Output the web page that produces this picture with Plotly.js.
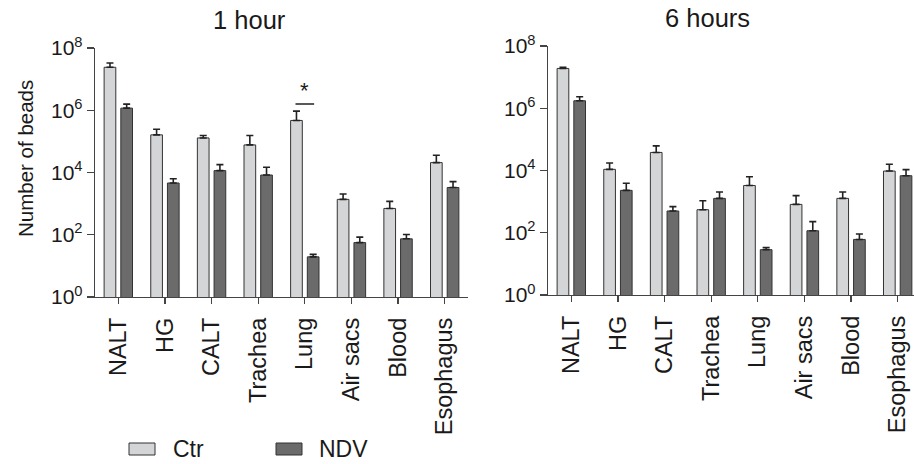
<!DOCTYPE html>
<html>
<head>
<meta charset="utf-8">
<script src="https://cdn.plot.ly/plotly-3.0.1.min.js"></script>
<style>html,body{margin:0;padding:0;background:#fff}#chart{width:914px;height:464px}</style>
</head>
<body>
<div id="chart"></div>
<script>
// ---- data ----
const categories = ["NALT", "HG", "CALT", "Trachea", "Lung", "Air sacs", "Blood", "Esophagus"];

const ctr1h    = [2.4e7, 1.62e5, 1.29e5, 7.7e4, 4.7e5, 1370, 700, 2.08e4];
const ctr1hErr = [0.9e7, 0.84e5, 0.26e5, 7.8e4, 4.7e5, 660, 480, 1.5e4];
const ndv1h    = [1.17e6, 4600, 1.15e4, 8300, 19.5, 56, 74, 3300];
const ndv1hErr = [0.4e6, 1700, 6400, 6400, 4, 28, 28, 1800];

const ctr6h    = [1.9e7, 1.09e4, 3.8e4, 550, 3300, 814, 1270, 9600];
const ctr6hErr = [0.15e7, 6500, 2.4e4, 520, 3000, 740, 760, 6200];
const ndv6h    = [1.74e6, 2300, 500, 1270, 28.6, 116, 61, 6800];
const ndv6hErr = [0.6e6, 1600, 190, 760, 5, 112, 30, 3900];

const yTickVals = [1, 100, 1e4, 1e6, 1e8];
const yTickText = ["10<sup>0</sup>", "10<sup>2</sup>", "10<sup>4</sup>", "10<sup>6</sup>", "10<sup>8</sup>"];
const seriesNames = ["Ctr", "NDV"];
const panelTitles = ["1 hour", "6 hours"];

// ---- styling ----
const W = 914, H = 464;
const CTR_FILL = "#d4d5d7", NDV_FILL = "#6b6b6b", EDGE = "#333333", TXT = "#1a1a1a";
const FONT = "Liberation Sans, Arial, sans-serif";
const px = v => v / W, py = v => 1 - v / H;
const zeros = categories.map(() => 0);

function barTrace(name, y, err, fill, xa, ya) {
  return {
    type: "bar", name: name, x: categories, y: y, xaxis: xa, yaxis: ya,
    marker: {color: fill, line: {color: EDGE, width: 1}},
    error_y: {type: "data", symmetric: false, array: err, arrayminus: zeros,
              color: "#222", thickness: 1.6, width: 3.5},
    showlegend: false, hoverinfo: "x+y"
  };
}

const data = [
  barTrace(seriesNames[0], ctr1h, ctr1hErr, CTR_FILL, "x", "y"),
  barTrace(seriesNames[1], ndv1h, ndv1hErr, NDV_FILL, "x", "y"),
  barTrace(seriesNames[0], ctr6h, ctr6hErr, CTR_FILL, "x2", "y2"),
  barTrace(seriesNames[1], ndv6h, ndv6hErr, NDV_FILL, "x2", "y2")
];

const xCommon = {
  type: "category", showline: true, linecolor: "#444", linewidth: 1.3,
  ticks: "outside", ticklen: 6, tickcolor: "#444", tickwidth: 1.3,
  tickangle: -90, tickfont: {family: FONT, size: 23.5, color: TXT},
  ticklabelstandoff: 4,
  showgrid: false, zeroline: false, fixedrange: true
};
const yCommon = {
  type: "log", range: [0, 8], showline: true, linecolor: "#444", linewidth: 1.3,
  ticks: "outside", ticklen: 7, tickcolor: "#444", tickwidth: 1.3,
  tickvals: yTickVals, ticktext: yTickText,
  tickfont: {family: FONT, size: 21, color: TXT},
  showgrid: false, zeroline: false, fixedrange: true
};

const layout = {
  width: W, height: H,
  margin: {l: 0, r: 0, t: 0, b: 0},
  paper_bgcolor: "#fff", plot_bgcolor: "#fff",
  barmode: "group", bargap: 0.284, bargroupgap: 0.3,
  font: {family: FONT, color: TXT},
  xaxis:  Object.assign({}, xCommon, {domain: [px(95), px(468)], range: [-0.5, 7.5], anchor: "y"}),
  yaxis:  Object.assign({}, yCommon, {domain: [py(297), py(48)], anchor: "x"}),
  xaxis2: Object.assign({}, xCommon, {domain: [px(548), 1], range: [-0.5, 7.35], anchor: "y2"}),
  yaxis2: Object.assign({}, yCommon, {domain: [py(295), py(46)], anchor: "x2"}),
  annotations: [
    {text: panelTitles[0], xref: "paper", yref: "paper", x: px(250), y: py(20),
     showarrow: false, font: {size: 25.5, family: FONT, color: TXT}, xanchor: "center", yanchor: "middle"},
    {text: panelTitles[1], xref: "paper", yref: "paper", x: px(707), y: py(18),
     showarrow: false, font: {size: 25.5, family: FONT, color: TXT}, xanchor: "center", yanchor: "middle"},
    {text: "Number of beads", xref: "paper", yref: "paper", x: px(25), y: py(159),
     showarrow: false, textangle: -90, font: {size: 20.5, family: FONT, color: TXT},
     xanchor: "center", yanchor: "middle"},
    {text: "*", xref: "x", yref: "paper", x: 4, y: py(90),
     showarrow: false, font: {size: 22, family: FONT, color: TXT}, xanchor: "center", yanchor: "middle"},
    {text: seriesNames[0], xref: "paper", yref: "paper", x: px(171), y: py(449),
     showarrow: false, font: {size: 23, family: FONT, color: TXT}, xanchor: "left", yanchor: "middle"},
    {text: seriesNames[1], xref: "paper", yref: "paper", x: px(317), y: py(449),
     showarrow: false, font: {size: 23, family: FONT, color: TXT}, xanchor: "left", yanchor: "middle"}
  ],
  shapes: [
    {type: "line", xref: "x", yref: "paper", x0: 3.8, x1: 4.2, y0: py(104), y1: py(104),
     line: {color: "#222", width: 1.5}},
    {type: "rect", xref: "paper", yref: "paper", x0: px(129), x1: px(155), y0: py(455), y1: py(443),
     fillcolor: CTR_FILL, line: {color: EDGE, width: 1}},
    {type: "rect", xref: "paper", yref: "paper", x0: px(276), x1: px(302), y0: py(455), y1: py(443),
     fillcolor: NDV_FILL, line: {color: EDGE, width: 1}}
  ]
};

Plotly.newPlot("chart", data, layout, {displayModeBar: false, staticPlot: true});
</script>
</body>
</html>
